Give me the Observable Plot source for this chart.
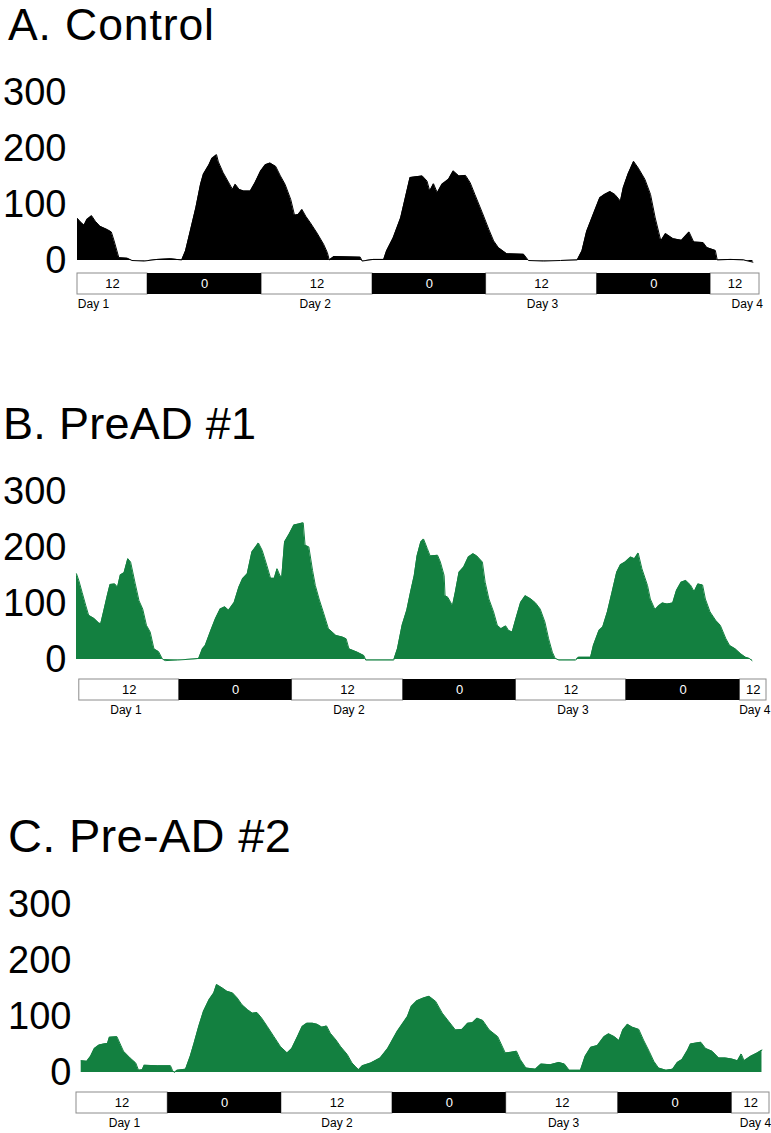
<!DOCTYPE html>
<html>
<head>
<meta charset="utf-8">
<script src="https://cdn.jsdelivr.net/npm/d3@7"></script>
<script src="https://cdn.jsdelivr.net/npm/@observablehq/plot@0.6"></script>
<style>
  html, body { margin: 0; padding: 0; background: #fff; }
  #page { position: relative; width: 771px; height: 1133px; overflow: hidden; font-family: "Liberation Sans", Arial, sans-serif; color: #000; }
  .title { position: absolute; line-height: 1.117; white-space: nowrap; }
  .slot { position: absolute; left: 0; }
  .slot svg { display: block; }
</style>
</head>
<body>
<div id="page"></div>
<script>
// ---------- data (hours since start of recording, activity counts) ----------
const titles = ["A. Control", "B. PreAD #1", "C. Pre-AD #2"];
const yTicks = [0, 100, 200, 300];
const phaseLabels = ["12", "0", "12", "0", "12", "0", "12"];
const dayLabels = ["Day 1", "Day 2", "Day 3", "Day 4"];

const hoursA = [0,0.3,0.7,1.0,1.5,1.9,2.4,3.2,3.6,3.9,4.2,4.4,5.3,5.8,7.1,8.5,9.9,11.1,11.5,12.0,12.6,13.1,13.4,14.0,14.3,14.8,15.0,15.5,16.0,16.5,16.8,17.2,17.7,18.4,18.9,19.5,20.0,20.5,21.1,21.6,22.1,22.7,23.1,23.5,23.9,24.3,24.8,25.5,26.2,26.6,26.8,27.3,30.1,30.3,31.5,32.6,32.9,33.6,34.4,34.9,35.4,35.8,36.7,37.2,37.5,37.9,38.3,38.8,39.5,40.0,40.6,41.3,41.8,42.3,43.1,43.8,44.3,44.8,45.7,47.5,48.0,49.6,51.4,53.2,53.7,54.2,54.9,55.6,56.1,56.7,57.2,57.8,58.1,58.6,59.2,59.7,60.4,61.0,61.5,62.1,62.6,63.4,64.3,65.1,65.6,66.6,67.0,67.9,68.1,69.5,70.9,71.9];
const valuesA = [75,69,63,73,80,70,61,55,51,35,17,5,4,0,-1,2,3,1,17,52,94,136,154,171,182,189,176,157,142,127,136,127,124,124,139,160,171,174,168,151,136,109,81,82,91,79,67,49,29,14,1,7,6,-1,2,2,17,40,76,112,148,149,151,142,124,137,121,136,145,160,151,152,139,118,85,55,35,23,12,11,0,-1,0,1,17,52,82,112,118,123,118,106,130,154,177,165,145,118,76,35,48,39,36,51,33,32,23,18,1,2,1,-3];

const hoursB = [0,0.25,0.6,1.0,1.3,1.9,2.4,2.6,2.9,3.3,3.6,4.1,4.4,4.7,5.1,5.5,5.8,6.3,6.7,7.1,7.5,7.9,8.3,8.8,9.2,9.5,10.8,12.6,13.1,13.5,13.8,14.4,14.9,15.4,15.9,16.3,16.9,17.4,17.8,18.3,18.8,19.2,19.5,19.9,20.4,20.8,21.2,21.5,21.8,22.0,22.3,22.8,23.3,23.8,24.3,24.5,24.9,25.3,25.6,26.0,26.5,27.0,27.8,28.5,28.9,29.2,30.1,30.8,31.0,34.0,34.4,34.9,35.4,35.8,36.2,36.5,36.9,37.2,37.6,37.9,38.7,39.0,39.4,39.5,39.8,40.3,40.6,41.0,41.5,42.0,42.5,42.9,43.5,43.8,44.2,44.7,45.1,45.5,46.0,46.3,46.7,47.1,47.6,48.1,48.7,49.2,49.7,50.2,50.6,51.0,51.3,51.7,53.5,53.8,55.1,55.4,56.0,56.4,56.9,57.4,57.9,58.3,58.8,59.4,59.8,60.2,60.6,61.2,61.5,62.0,62.4,62.8,63.3,63.9,64.3,64.8,65.3,65.8,66.2,66.6,67.1,67.4,67.9,68.5,69.0,69.6,70.0,70.6,71.2,71.7,72.1,72.4];
const valuesB = [153,141,120,96,79,73,65,64,85,114,134,135,129,151,155,180,174,135,105,90,61,49,19,14,1,-2,-1,1,2,19,25,52,73,90,94,88,102,129,144,153,192,201,208,195,168,145,145,162,150,147,210,224,240,242,244,204,201,159,132,108,82,55,43,40,37,19,13,7,-1,-1,19,61,88,120,150,185,210,215,198,185,186,174,150,114,111,96,120,156,165,183,189,185,174,138,108,85,61,55,60,52,49,73,102,114,108,101,90,67,37,13,2,-1,-1,4,4,25,52,58,85,120,156,169,174,183,180,190,162,132,108,89,96,101,99,101,123,138,141,133,121,135,133,108,85,70,61,37,25,19,10,4,2,-2];

const hoursC = [0.5,1.1,1.5,1.9,2.4,2.9,3.3,3.5,4.3,4.7,5.0,5.7,6.3,6.6,7.0,7.2,8.6,10.0,10.2,10.4,10.7,11.6,12.1,12.5,13.0,13.5,14.1,14.6,14.9,15.5,16.0,16.6,17.1,17.6,18.2,18.7,19.2,19.7,20.3,21.0,21.7,22.4,22.9,23.5,24.0,24.5,25.1,25.6,26.1,26.6,27.0,27.6,28.1,28.8,29.3,29.7,30.0,30.4,31.3,32.3,33.1,34.1,35.2,35.6,36.2,36.9,37.5,38.2,38.9,39.6,40.3,41.0,41.6,42.1,42.6,43.2,43.9,44.8,45.6,46.2,46.8,47.2,47.8,48.8,49.4,50.4,51.3,51.9,52.4,53.6,54.1,54.7,55.4,56.1,56.6,57.2,57.7,58.1,58.6,59.1,59.8,60.3,60.9,61.4,61.9,62.7,63.4,63.9,64.4,65.0,65.3,66.4,66.9,67.6,68.3,69.0,69.7,70.3,70.7,71.0,71.7,72.4,72.9];
const valuesC = [21,20,29,43,49,51,52,63,64,49,38,26,17,4,5,13,12,12,4,0,4,6,29,52,82,109,130,142,157,151,145,142,133,121,112,106,107,97,82,64,46,35,43,64,82,88,88,86,81,83,70,58,46,32,17,10,5,12,17,26,43,73,100,118,128,133,136,127,106,91,76,77,88,89,97,93,76,64,35,36,38,23,8,6,15,14,18,15,4,4,29,45,48,64,69,64,57,76,86,81,77,58,38,20,8,4,6,18,23,40,51,54,43,38,26,26,24,21,33,21,29,35,40];

// light/dark phase boundaries (hours) and day label positions (hours)
const phaseBoundsA = [0, 7.45, 19.6, 31.4, 43.5, 55.3, 67.4, 72.6];
const phaseBoundsB = [0.3, 11.0, 23.1, 35.0, 47.1, 58.9, 71.1, 73.95];
const phaseBoundsC = [0, 9.7, 21.8, 33.6, 45.7, 57.6, 69.7, 73.7];
const dayPosA = [1.7, 25.3, 49.5, 71.3];
const dayPosB = [5.3, 29.2, 53.2, 72.7];
const dayPosC = [5.1, 27.7, 51.8, 72.2];

const colorA = "#000000";
const colorPre = "#138040";

// ---------- layout ----------
const panels = [
  {title: titles[0], hours: hoursA, values: valuesA, bounds: phaseBoundsA, days: dayPosA, color: colorA,
   titleTop: 0, titleLeft: 8, titleSize: 44.5, titleSpacing: 0.9,
   areaTop: 60, barTop: 272, ml: 77, mr: 12, domain: [0, 72.6], pad: 11},
  {title: titles[1], hours: hoursB, values: valuesB, bounds: phaseBoundsB, days: dayPosB, color: colorPre,
   titleTop: 399, titleLeft: 3, titleSize: 45, titleSpacing: 0.3,
   areaTop: 459, barTop: 678, ml: 76, mr: 5, domain: [0, 73.95], pad: 10},
  {title: titles[2], hours: hoursC, values: valuesC, bounds: phaseBoundsC, days: dayPosC, color: colorPre,
   titleTop: 810, titleLeft: 8, titleSize: 47, titleSpacing: 0.3,
   areaTop: 872, barTop: 1091, ml: 76, mr: 2, domain: [0, 73.7], pad: 5}
];

const page = document.getElementById("page");
const font = '"Liberation Sans", Arial, sans-serif';

for (const p of panels) {
  const t = document.createElement("div");
  t.className = "title";
  t.style.top = p.titleTop + "px";
  t.style.left = p.titleLeft + "px";
  t.style.fontSize = p.titleSize + "px";
  t.style.letterSpacing = p.titleSpacing + "px";
  t.textContent = p.title;
  page.appendChild(t);

  const series = p.hours.map((h, i) => ({h, v: p.values[i]}));

  const area = Plot.plot({
    width: 771,
    height: 205,
    marginTop: 32,
    marginBottom: 5,
    marginLeft: p.ml,
    marginRight: p.mr,
    style: {fontFamily: font, color: "#000", background: "transparent", overflow: "visible"},
    x: {domain: p.domain, axis: null},
    y: {domain: [0, 300], axis: null},
    marks: [
      Plot.axisY({ticks: yTicks, tickSize: 0, tickPadding: p.pad, fontSize: 38, label: null}),
      Plot.areaY(series, {x: "h", y: "v", fill: p.color, curve: "linear"}),
      Plot.lineY(series, {x: "h", y: "v", stroke: p.color, strokeWidth: 1, curve: "linear"})
    ]
  });
  const a = document.createElement("div");
  a.className = "slot";
  a.style.top = p.areaTop + "px";
  a.appendChild(area);
  page.appendChild(a);

  const phases = phaseLabels.map((label, i) => ({start: p.bounds[i], end: p.bounds[i + 1], label}));
  const lights = phases.filter(d => d.label === "12");
  const darks = phases.filter(d => d.label === "0");
  const days = dayLabels.map((label, i) => ({label, pos: p.days[i]}));

  const bar = Plot.plot({
    width: 771,
    height: 42,
    marginTop: 1,
    marginBottom: 20,
    marginLeft: p.ml,
    marginRight: p.mr,
    style: {fontFamily: font, color: "#000", background: "transparent", overflow: "visible"},
    x: {domain: p.domain, axis: null},
    marks: [
      Plot.rect(lights, {x1: "start", x2: "end", fill: "white", stroke: "#8c8c8c", strokeWidth: 1}),
      Plot.rect(darks, {x1: "start", x2: "end", fill: "black"}),
      Plot.text(lights, {x: d => (d.start + d.end) / 2, text: "label", fill: "black", fontSize: 13, frameAnchor: "middle"}),
      Plot.text(darks, {x: d => (d.start + d.end) / 2, text: "label", fill: "white", fontSize: 13, frameAnchor: "middle"}),
      Plot.text(days, {x: "pos", text: "label", fill: "black", fontSize: 12, frameAnchor: "bottom", dy: 13})
    ]
  });
  const b = document.createElement("div");
  b.className = "slot";
  b.style.top = p.barTop + "px";
  b.appendChild(bar);
  page.appendChild(b);
}
</script>
</body>
</html>
